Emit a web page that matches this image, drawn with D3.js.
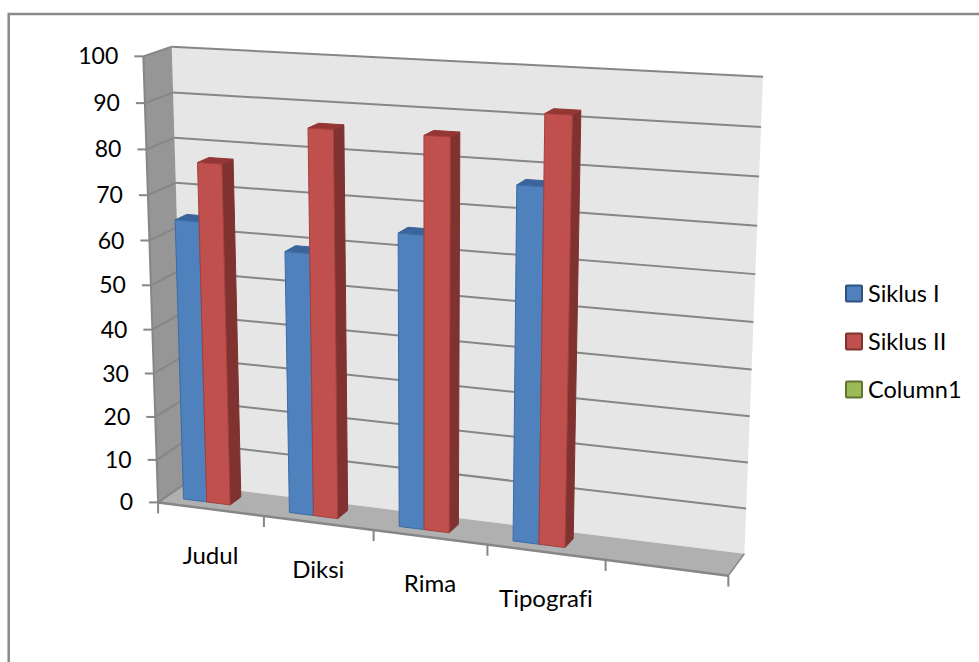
<!DOCTYPE html>
<html>
<head>
<meta charset="utf-8">
<style>
html,body{margin:0;padding:0;background:#fff;}
svg{display:block;}
text{font-family:Lato,"Open Sans",sans-serif;fill:#000;font-variant-ligatures:none;}
</style>
<script src="https://cdnjs.cloudflare.com/ajax/libs/d3/7.8.5/d3.min.js"></script>
</head>
<body>
<svg id="chart" width="979" height="662"></svg>
<script>
// Chart data
const categories = ["Judul", "Diksi", "Rima", "Tipografi", ""];
const seriesNames = ["Siklus I", "Siklus II", "Column1"];
const siklusI = [64, 59, 65, 77];
const siklusII = [77, 86, 86, 92];
const column1 = [];
const seriesColors = [
  {front: "#4f81bd", top: "#3b659a", side: "#2f5280", line: "#3a6ba6"},
  {front: "#c0504d", top: "#943634", side: "#7f3230", line: "#a53f3c"},
  {front: "#9bbb59", top: "#76923c", side: "#5f7530", line: "#7f9a48"}
];

// Unit-cube corners (u along categories, v up the value axis, d into the depth)
// paired with their screen position; the perspective camera is fitted to them.
const cameraAnchors = [
  [0, 0, 0, 160, 501.5], [1, 0, 0, 728, 577], [0.6, 0, 0, 487, 545],
  [0, 1, 0, 142, 56], [0, 0.5, 0, 151, 285],
  [0, 0, 1, 183, 485], [1, 0, 1, 745, 552],
  [0, 1, 1, 173, 47], [1, 1, 1, 763, 77]
];

function fitCamera(anchors) {
  const rows = [];
  anchors.forEach(([u, v, d, x, y]) => {
    rows.push([u, v, d, 1, 0, 0, 0, 0, -x * u, -x * v, -x * d, x]);
    rows.push([0, 0, 0, 0, u, v, d, 1, -y * u, -y * v, -y * d, y]);
  });
  const n = 11;
  const m = d3.range(n).map(i => d3.range(n + 1).map(j =>
    d3.sum(rows, r => r[i] * r[j])));
  for (let c = 0; c < n; c++) {
    let best = c;
    for (let r = c + 1; r < n; r++) if (Math.abs(m[r][c]) > Math.abs(m[best][c])) best = r;
    [m[c], m[best]] = [m[best], m[c]];
    for (let r = 0; r < n; r++) {
      if (r === c) continue;
      const f = m[r][c] / m[c][c];
      for (let k = c; k <= n; k++) m[r][k] -= f * m[c][k];
    }
  }
  return m.map((row, i) => row[n] / row[i]);
}

const cam = fitCamera(cameraAnchors);
function project(u, v, d) {
  const w = cam[8] * u + cam[9] * v + cam[10] * d + 1;
  return [(cam[0] * u + cam[1] * v + cam[2] * d + cam[3]) / w,
          (cam[4] * u + cam[5] * v + cam[6] * d + cam[7]) / w];
}

// Scales into the unit cube
const xBand = d3.scaleBand().domain(d3.range(categories.length)).range([0, 1]);
const seriesBand = d3.scaleBand().domain(seriesNames)
  .range([0, xBand.bandwidth()]).paddingInner(0).paddingOuter(0.75);
const yScale = d3.scaleLinear().domain([0, 100]).range([0, 1]);
const depthFront = 0.3, depthBack = 0.72;

const svg = d3.select("#chart");
const GRID = "#868686";
const poly = pts => "M" + pts.map(p => p.join(",")).join("L") + "Z";
const seg = (a, b) => d3.line()([a, b]);

// Outer frame of the chart area
svg.append("path").attr("d", "M8.7,662V14H979")
  .attr("fill", "none").attr("stroke", "#8a8a8a").attr("stroke-width", 2.5);

// Walls and floor
svg.append("path").attr("d", poly([project(0,0,1), project(1,0,1), project(1,1,1), project(0,1,1)]))
  .attr("fill", "#e6e6e6");
svg.append("path").attr("d", poly([project(0,0,0), project(0,0,1), project(0,1,1), project(0,1,0)]))
  .attr("fill", "#969696");
svg.append("path").attr("d", poly([project(0,0,0), project(1,0,0), project(1,0,1), project(0,0,1)]))
  .attr("fill", "#b0b0b0");

// Gridlines on the back and left walls, with value ticks and labels
const yTicks = yScale.ticks(10);
const gridG = svg.append("g");
yTicks.forEach(t => {
  const v = yScale(t);
  if (t > 0) {
    gridG.append("path").attr("d", seg(project(0,v,1), project(1,v,1)))
      .attr("stroke", GRID).attr("stroke-width", 2).attr("fill", "none");
  }
  gridG.append("path").attr("d", seg(project(0,v,0), project(0,v,1)))
    .attr("stroke", GRID).attr("stroke-width", 2).attr("fill", "none");
  const [fx, fy] = project(0, v, 0);
  gridG.append("path").attr("d", seg([fx - 9, fy], [fx, fy]))
    .attr("stroke", GRID).attr("stroke-width", 2).attr("fill", "none");
  svg.append("text").attr("x", fx - 25).attr("y", fy)
    .attr("dy", "0.35em").attr("text-anchor", "end")
    .attr("font-size", 23).text(t);
});

// Axis edges
gridG.append("path").attr("d", seg(project(0,0,0), project(0,1,0)))
  .attr("stroke", GRID).attr("stroke-width", 2).attr("fill", "none");
gridG.append("path").attr("d", seg(project(0,0,0), project(1,0,0)))
  .attr("stroke", GRID).attr("stroke-width", 2.5).attr("fill", "none");
gridG.append("path").attr("d", seg(project(1,0,0), project(1,0,1)))
  .attr("stroke", GRID).attr("stroke-width", 1.5).attr("fill", "none");

// Category ticks under the front floor edge
d3.range(categories.length + 1).forEach(i => {
  const [x, y] = project(i / categories.length, 0, 0);
  gridG.append("path").attr("d", seg([x, y], [x, y + 11]))
    .attr("stroke", GRID).attr("stroke-width", 2).attr("fill", "none");
});

// Columns, painted left to right so nearer faces cover farther ones
function drawBar(catIndex, name, value, color) {
  const u0 = xBand(catIndex) + seriesBand(name);
  const u1 = u0 + seriesBand.bandwidth();
  const v = yScale(value);
  const g = svg.append("g").attr("class", "bar");
  const face = (pts, fill) => g.append("path").attr("d", poly(pts))
    .attr("fill", fill).attr("stroke", color.line).attr("stroke-width", 1).attr("stroke-linejoin", "round");
  face([project(u1,0,depthFront), project(u1,0,depthBack), project(u1,v,depthBack), project(u1,v,depthFront)], color.side)
    .attr("stroke", color.side);
  face([project(u0,v,depthFront), project(u1,v,depthFront), project(u1,v,depthBack), project(u0,v,depthBack)], color.top)
    .attr("stroke", color.top);
  face([project(u0,0,depthFront), project(u1,0,depthFront), project(u1,v,depthFront), project(u0,v,depthFront)], color.front);
}
categories.forEach((c, i) => {
  if (siklusI[i] !== undefined) drawBar(i, seriesNames[0], siklusI[i], seriesColors[0]);
  if (siklusII[i] !== undefined) drawBar(i, seriesNames[1], siklusII[i], seriesColors[1]);
  if (column1[i] !== undefined) drawBar(i, seriesNames[2], column1[i], seriesColors[2]);
});

// Category labels
categories.forEach((c, i) => {
  if (!c) return;
  const [x, y] = project(xBand(i) + xBand.bandwidth() / 2, 0, 0);
  svg.append("text").attr("x", x).attr("y", y + 55)
    .attr("text-anchor", "middle").attr("font-size", 24).text(c);
});

// Legend
const legendY = d3.scalePoint().domain(seriesNames).range([293.5, 389.5]);
seriesNames.forEach((name, i) => {
  const y = legendY(name);
  svg.append("rect").attr("x", 846).attr("y", y - 8).attr("width", 16).attr("height", 16)
    .attr("rx", 1).attr("fill", seriesColors[i].front)
    .attr("stroke", seriesColors[i].side).attr("stroke-width", 2);
  svg.append("text").attr("x", 868).attr("y", y).attr("dy", "0.35em")
    .attr("font-size", 23.5).text(name);
});
</script>
</body>
</html>
